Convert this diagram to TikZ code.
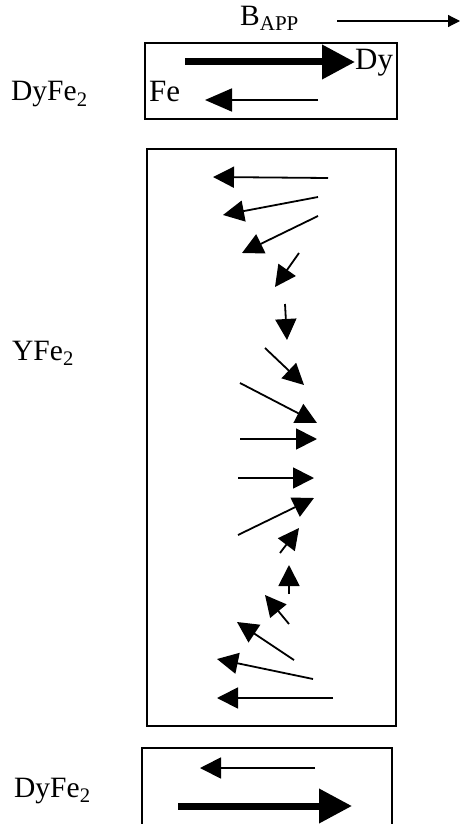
\documentclass[tikz,border=0pt]{standalone}
\usepackage{fontspec}
\setmainfont{Liberation Serif}
\usetikzlibrary{arrows.meta}
\begin{document}
\begin{tikzpicture}[x=1pt,y=-1pt,
  lbl/.style={inner sep=0pt,anchor=base west,font=\fontsize{29.5}{34}\selectfont},
  inlbl/.style={inner sep=0pt,anchor=base west,font=\fontsize{31}{35}\selectfont},
  boxline/.style={line width=1.5pt},
  spin/.style={line width=1.8pt,-{Triangle[length=21pt,width=21pt]}},
  bigspin/.style={line width=7pt,-{Triangle[length=33pt,width=33pt]}},
  fespin/.style={line width=1.8pt,-{Triangle[length=27pt,width=23pt]}},
  field/.style={line width=1.2pt,-{Triangle[length=12pt,width=12pt]}}]
\useasboundingbox (0,0) rectangle (461,824);
% labels
\node[lbl] (bapp) at (240,26) {B\raisebox{-5pt}{\fontsize{21}{21}\selectfont APP}};
\node[lbl] (dytop) at (11,101) {DyFe\textsubscript{2}};
\node[inlbl] (fe) at (149,102) {Fe};
\node[inlbl] (dy) at (355,70) {Dy};
\node[lbl] (yfe) at (12,360) {YFe\textsubscript{2}};
\node[lbl] (dybot) at (14,797) {DyFe\textsubscript{2}};
% applied field
\draw[field] (337,21) -- (460,21);
% top DyFe2 layer
\draw[boxline] (145,43) rectangle (397,119);
\draw[bigspin] (185,62) -- (355,62);
\draw[fespin] (318,100) -- (205,100);
% YFe2 layer
\draw[boxline] (147,149) rectangle (396,726);
\draw[spin] (328,178) -- (213,177);
\draw[spin] (318,197) -- (223,215);
\draw[spin] (318,216) -- (242,253);
\draw[spin] (299,253) -- (275,287);
\draw[spin] (285,304) -- (287,340);
\draw[spin] (265,348) -- (304,385);
\draw[spin] (240,383) -- (317,423);
\draw[spin] (240,439) -- (317,439);
\draw[spin] (238,478) -- (314,478);
\draw[spin] (238,535) -- (314,498);
\draw[spin] (280,553) -- (299,528);
\draw[spin] (289,594) -- (289,565);
\draw[spin] (289,624) -- (265,595);
\draw[spin] (294,660) -- (237,622);
\draw[spin] (313,679) -- (217,659);
\draw[spin] (333,698) -- (217,698);
% bottom DyFe2 layer
\draw[boxline] (142,824) -- (142,748) -- (392,748) -- (392,824);
\draw[spin] (315,768) -- (200,768);
\draw[bigspin] (178,806) -- (352,806);
\end{tikzpicture}
\end{document}
